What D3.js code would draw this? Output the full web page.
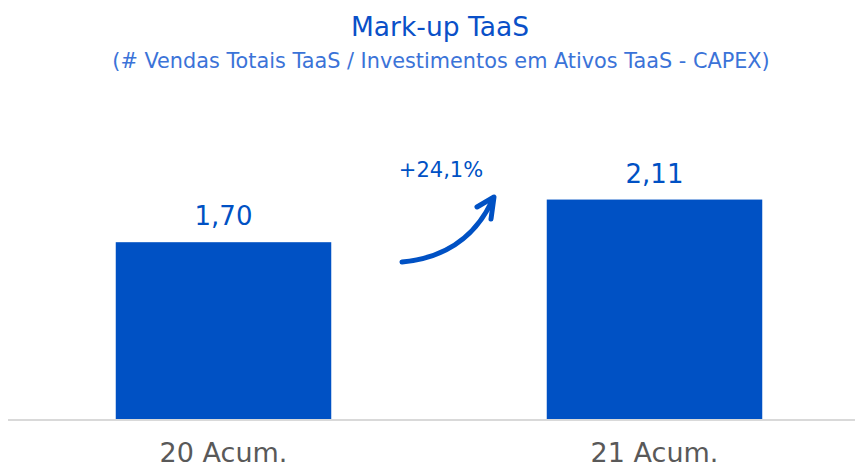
<!DOCTYPE html>
<html>
<head>
<meta charset="utf-8">
<script src="https://cdn.jsdelivr.net/npm/d3@7"></script>
<style>
    body { margin: 0; background: #fff; }
    text { font-family: "DejaVu Sans", sans-serif; }
</style>
</head>
<body>
<div id="chart"><svg></svg></div>
<script>
// chart data
const categories = ["20 Acum.", "21 Acum."];
const values = [1.70, 2.11];
const valueLabels = ["1,70", "2,11"];
const growthLabel = "+24,1%";
const title = "Mark-up TaaS";
const subtitle = "(# Vendas Totais TaaS / Investimentos em Ativos TaaS - CAPEX)";

const width = 855, height = 470;
const blue = "#0051c4";

let svg = d3.select("#chart").select("svg")
    .attr("width", width)
    .attr("height", height);

// band scale puts bars at 116-331 and 547-762
let xScale = d3.scaleBand()
    .domain(categories)
    .range([8, 870])
    .paddingInner(0.5)
    .paddingOuter(0.25);

let yScale = d3.scaleLinear()
    .domain([0, 2.5])
    .range([419, 159]);

svg.append("text")
    .attr("x", 440).attr("y", 36)
    .attr("text-anchor", "middle")
    .style("font-size", "26.5px")
    .style("fill", "#0a50c8")
    .text(title);

svg.append("text")
    .attr("x", 441).attr("y", 68)
    .attr("text-anchor", "middle")
    .style("font-size", "20.8px")
    .style("fill", "#3b73d8")
    .text(subtitle);

// bars
svg.selectAll("rect.bar").data(values)
    .enter()
    .append("rect")
    .attr("class", "bar")
    .attr("x", function(d, i){ return xScale(categories[i]); })
    .attr("y", function(d){ return yScale(d); })
    .attr("width", xScale.bandwidth())
    .attr("height", function(d){ return yScale(0) - yScale(d); })
    .style("fill", blue);

// baseline
svg.append("line")
    .attr("x1", 8).attr("x2", width)
    .attr("y1", yScale(0) + 1).attr("y2", yScale(0) + 1)
    .style("stroke", "#d9d9d9")
    .style("stroke-width", 2);

// value labels
svg.selectAll("text.value").data(values)
    .enter()
    .append("text")
    .attr("class", "value")
    .attr("x", function(d, i){ return xScale(categories[i]) + xScale.bandwidth()/2; })
    .attr("y", function(d){ return yScale(d) - 17; })
    .attr("text-anchor", "middle")
    .style("font-size", "26px")
    .style("fill", blue)
    .text(function(d, i){ return valueLabels[i]; });

// category labels
svg.selectAll("text.cat").data(categories)
    .enter()
    .append("text")
    .attr("class", "cat")
    .attr("x", function(d){ return xScale(d) + xScale.bandwidth()/2; })
    .attr("y", 462)
    .attr("text-anchor", "middle")
    .style("font-size", "27px")
    .style("fill", "#595959")
    .text(function(d){ return d; });

// growth label + hand drawn arrow
svg.append("text")
    .attr("x", 441).attr("y", 177)
    .attr("text-anchor", "middle")
    .style("font-size", "21px")
    .style("fill", blue)
    .text(growthLabel);

let arrow = svg.append("g")
    .style("fill", "none")
    .style("stroke", blue)
    .style("stroke-linecap", "round")
    .style("stroke-linejoin", "round");

arrow.append("path")
    .attr("d", "M402,262 Q466,256 492,201")
    .style("stroke-width", 5);

arrow.append("path")
    .attr("d", "M477,207 L494,197 L491,219")
    .style("stroke-width", 5);
</script>
</body>
</html>
